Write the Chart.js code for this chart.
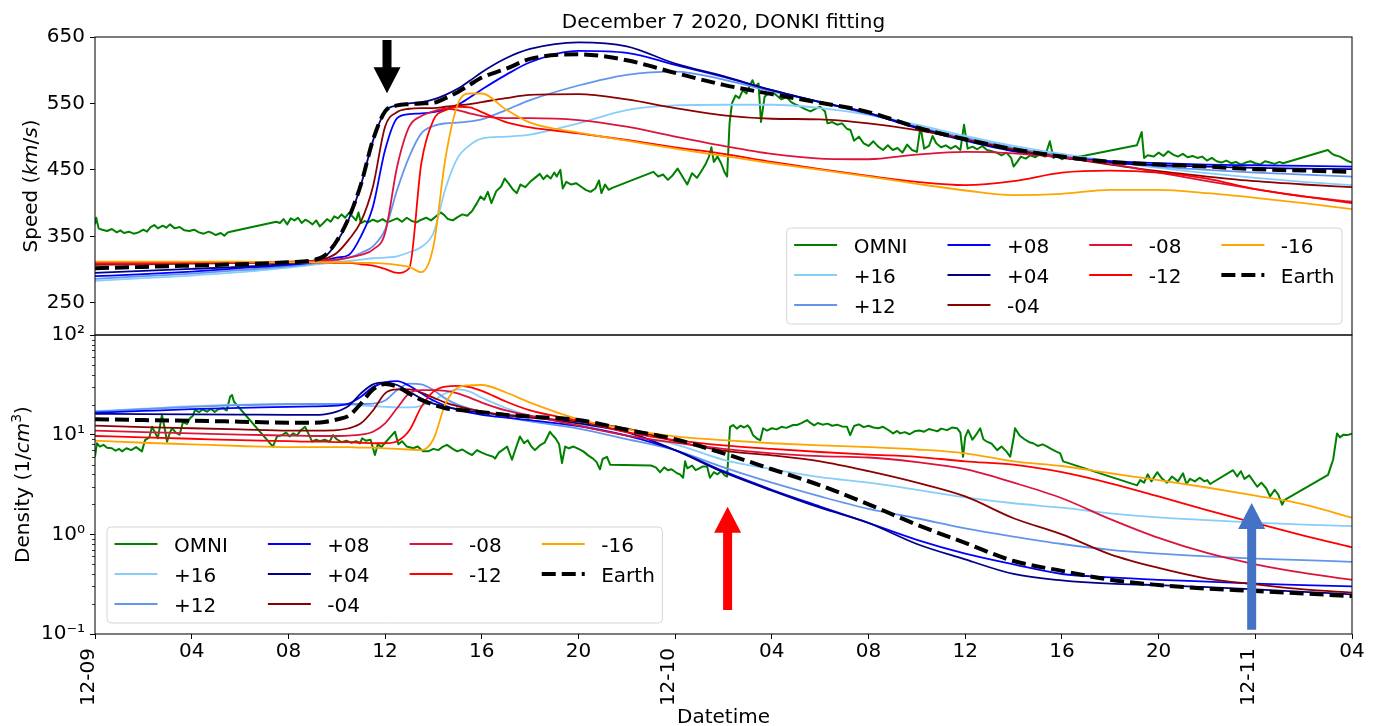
<!DOCTYPE html>
<html>
<head>
<meta charset="utf-8">
<title>December 7 2020, DONKI fitting</title>
<script src="https://cdn.jsdelivr.net/npm/chart.js@4.4.1/dist/chart.umd.min.js"></script>
<style>
  html, body { margin: 0; padding: 0; background: #fff; }
  #wrap { position: relative; width: 1381px; height: 726px; }
  #wrap canvas { position: absolute; left: 0; top: 0; }
</style>
</head>
<body>
<div id="wrap">
  <canvas id="speedChart" width="1381" height="726"></canvas>
  <canvas id="densityChart" width="1381" height="726"></canvas>
</div>
<script>
// hours after 2020-12-09 00:00 UT
const modelHours = [0, 2, 4, 6, 8, 9, 9.5, 10, 10.5, 11, 11.5, 12, 12.5, 13, 13.5, 14, 14.5, 15, 15.5, 16,
  17, 18, 20, 22, 24, 26, 28, 30, 32, 34, 36, 38, 40, 42, 44, 46, 48, 50, 52];

// speed (km/s) of each DONKI run, labelled by time shift in hours
const speedP16 = [283, 287, 291, 296, 303, 307, 309, 311, 313, 315, 317, 318, 320, 326, 334, 355, 422, 468, 487, 497,
  500, 503, 520, 540, 547, 548, 548, 543, 533, 518, 501, 486, 474, 463, 453, 445, 438, 432, 427];
const speedP12 = [286, 290, 294, 299, 305, 309, 311, 314, 318, 325, 335, 360, 420, 470, 505, 516, 520, 521, 523, 526,
  540, 555, 577, 593, 598, 586, 568, 552, 534, 515, 498, 483, 471, 462, 455, 450, 446, 443, 440];
const speedP08 = [290, 293, 297, 302, 307, 311, 314, 318, 322, 350, 395, 480, 528, 534, 535, 537, 541, 548, 559, 571,
  593, 612, 629, 626, 608, 590, 570, 552, 535, 513, 494, 478, 469, 463, 460, 458, 457, 456, 455];
const speedP04 = [295, 298, 301, 304, 309, 313, 319, 341, 376, 427, 494, 538, 547, 550, 552, 556, 563, 572, 584, 597,
  618, 632, 642, 636, 610, 591, 570, 552, 536, 514, 495, 479, 468, 461, 457, 455, 453, 452, 451];
const speedM04 = [307, 308, 309, 310, 311, 313, 316, 325, 345, 372, 425, 515, 537, 542, 543, 543, 545, 547, 549, 552,
  558, 563, 564, 556, 543, 532, 527, 526, 520, 510, 496, 481, 469, 458, 448, 440, 433, 428, 424];
const speedM08 = [309, 309, 310, 311, 312, 313, 314, 315, 318, 322, 330, 355, 455, 515, 531, 538, 542, 540, 535, 531,
  528, 528, 525, 515, 500, 486, 474, 467, 466, 473, 477, 475, 469, 459, 446, 433, 421, 410, 402];
const speedM12 = [311, 311, 311, 311, 311, 311, 311, 310, 310, 308, 306, 301, 295, 302, 460, 525, 540, 545, 544, 537,
  522, 514, 505, 495, 484, 474, 462, 451, 441, 432, 427, 433, 446, 449, 446, 437, 421, 410, 400];
const speedM16 = [312, 312, 312, 312, 311, 311, 311, 311, 311, 310, 310, 309, 307, 304, 296, 335, 468, 548, 565, 565,
  541, 521, 506, 494, 482, 471, 460, 450, 440, 429, 419, 412, 414, 420, 420, 415, 408, 400, 391];
const speedEarth = [302, 304, 306, 308, 311, 314, 321, 343, 378, 428, 495, 538, 547, 549, 550, 551, 558, 567, 578, 589,
  602, 617, 624, 615, 596, 578, 564, 551, 537, 514, 496, 481, 470, 462, 458, 455, 451, 449, 447];

// density (1/cm^3)
const densP16 = [17.2, 18.2, 19.3, 20.0, 20.4, 20.4, 20.3, 20.2, 20.0, 19.7, 19.3, 19.0, 18.8, 18.8, 19.5, 22, 26, 28.5, 27, 23.5,
  18.5, 15.5, 12.6, 9.8, 8.0, 5.6, 4.5, 3.75, 3.3, 2.8, 2.35, 2.05, 1.85, 1.62, 1.48, 1.39, 1.31, 1.25, 1.21];
const densP12 = [17.0, 18.0, 19.0, 19.8, 20.2, 20.3, 20.3, 20.3, 20.3, 20.3, 20.5, 22, 28, 32.5, 32, 28, 23, 20, 18.3, 17.0,
  15.0, 13.6, 11.5, 9.0, 7.0, 4.7, 3.3, 2.4, 1.8, 1.45, 1.15, 0.95, 0.8, 0.7, 0.64, 0.6, 0.57, 0.55, 0.53];
const densP08 = [16.6, 17.3, 18.0, 18.6, 19.0, 19.2, 19.3, 19.6, 20.5, 24, 30, 33.5, 34.5, 31, 26, 22, 19.5, 17.8, 16.6, 15.8,
  14.8, 14.0, 12.2, 9.8, 7.0, 4.3, 2.8, 1.9, 1.3, 0.88, 0.64, 0.5, 0.4, 0.37, 0.35, 0.335, 0.32, 0.31, 0.30];
const densP04 = [16.2, 16.1, 16.0, 15.9, 15.8, 15.8, 16.0, 17.0, 19.5, 26, 32, 33.5, 31.5, 27, 23, 20.5, 19, 18, 17.2, 16.6,
  15.8, 15.0, 13.0, 10.6, 7.0, 4.2, 2.75, 1.85, 1.3, 0.8, 0.56, 0.4, 0.345, 0.32, 0.31, 0.295, 0.28, 0.265, 0.25];
const densM04 = [12.3, 11.9, 11.6, 11.3, 11.0, 11.0, 11.0, 11.1, 11.6, 13.0, 17.5, 26, 28.5, 28.5, 26.5, 23.5, 21, 19.3, 18.0, 17.0,
  15.6, 14.8, 13.5, 11.5, 8.6, 6.9, 6.2, 5.4, 4.3, 3.3, 2.4, 1.45, 1.0, 0.63, 0.46, 0.36, 0.315, 0.28, 0.26];
const densM08 = [11.0, 10.6, 10.3, 10.0, 9.8, 9.7, 9.7, 9.7, 9.8, 10.0, 10.7, 13.0, 18.5, 26, 28, 28, 27.5, 26, 23.5, 21,
  17.5, 15.5, 12.3, 9.8, 8.3, 7.2, 6.5, 6.1, 5.9, 5.3, 4.5, 3.3, 2.3, 1.42, 0.92, 0.65, 0.5, 0.41, 0.35];
const densM12 = [9.7, 9.4, 9.1, 8.8, 8.6, 8.5, 8.5, 8.4, 8.4, 8.3, 8.2, 8.2, 8.6, 11, 19, 27, 30.3, 30.8, 30, 27.5,
  21.5, 17.5, 13.8, 10.6, 8.8, 7.8, 7.2, 6.7, 6.3, 6.0, 5.4, 5.0, 4.2, 3.25, 2.4, 1.75, 1.3, 0.97, 0.74];
const densM16 = [8.7, 8.3, 8.0, 7.7, 7.5, 7.5, 7.5, 7.5, 7.5, 7.4, 7.4, 7.3, 7.2, 7.1, 7.0, 9.0, 20.5, 29.5, 31.3, 31.5,
  26.5, 21, 14.3, 11.3, 9.6, 8.8, 8.2, 7.8, 7.5, 7.1, 6.5, 5.4, 4.85, 4.1, 3.5, 2.95, 2.45, 2.0, 1.47];
const densEarth = [14.3, 14.0, 13.8, 13.5, 13.2, 13.2, 13.4, 14.2, 15.5, 20.5, 28.5, 32.2, 30.3, 25.8, 22.3, 20.0, 18.4, 17.8, 17.3, 16.8,
  15.8, 15.2, 14.0, 11.2, 9.0, 6.5, 4.5, 3.1, 2.0, 1.25, 0.82, 0.54, 0.43, 0.35, 0.31, 0.285, 0.27, 0.255, 0.24];

// OMNI observations
const omniSpeedHours = [0.00, 0.05, 0.15, 0.30, 0.50, 0.70, 0.90, 1.05, 1.20, 1.40, 1.60, 1.80, 2.00, 2.15, 2.30, 2.45, 2.60, 2.80, 2.95, 3.10,
  3.30, 3.50, 3.70, 3.90, 4.10, 4.30, 4.50, 4.70, 4.85, 5.00, 5.20, 5.35, 5.50, 5.60,
  7.50, 7.65, 7.80, 7.95, 8.10, 8.25, 8.40, 8.55, 8.70, 8.85, 9.00, 9.15, 9.30, 9.45, 9.60, 9.75, 9.90, 10.05, 10.20, 10.35,
  10.50, 10.65, 10.80, 10.90, 11.00, 11.15, 11.30, 11.50, 11.70, 11.90, 12.10, 12.30, 12.50, 12.70, 12.90, 13.10, 13.30, 13.50,
  13.70, 13.90, 14.10, 14.30, 14.45, 14.60, 14.80, 15.00, 15.20, 15.40, 15.60, 15.80, 15.95, 16.10, 16.25, 16.40, 16.60, 16.80,
  16.95, 17.10, 17.30, 17.45, 17.60, 17.80, 18.00, 18.20, 18.40, 18.55, 18.70, 18.85, 19.00, 19.10, 19.25, 19.35, 19.50, 19.70,
  19.90, 20.10, 20.30, 20.50, 20.70, 20.85, 20.95, 21.10, 21.25, 21.40,
  23.10, 23.30, 23.50, 23.70, 23.90, 24.10, 24.30, 24.50, 24.70, 24.90, 25.05, 25.25, 25.40, 25.50, 25.60, 25.75, 25.90, 26.05,
  26.15, 26.25, 26.35, 26.50, 26.65, 26.80, 26.95, 27.10, 27.20, 27.30, 27.45, 27.55, 27.70, 27.85, 28.00, 28.20, 28.40, 28.60,
  28.80, 29.00, 29.20, 29.40, 29.60, 29.80, 30.00, 30.20, 30.30, 30.50, 30.70, 30.90, 31.10, 31.25, 31.40, 31.60, 31.80, 32.00,
  32.20, 32.40, 32.60, 32.80, 33.00, 33.20, 33.40, 33.60, 33.80, 34.00, 34.15, 34.30, 34.50, 34.65, 34.80, 35.00, 35.20, 35.40,
  35.60, 35.80, 35.95, 36.10, 36.30, 36.50, 36.70, 36.90, 37.10, 37.30, 37.50, 37.70, 37.90, 38.00, 38.15, 38.30, 38.50, 38.70,
  38.90, 39.10, 39.30, 39.50, 39.65, 39.80, 40.00, 40.20, 40.35,
  43.10, 43.30, 43.40, 43.55, 43.80, 44.00, 44.20, 44.40, 44.60, 44.80, 45.00, 45.20, 45.40, 45.60, 45.80, 46.00, 46.20, 46.40,
  46.60, 46.80, 47.00, 47.20, 47.40, 47.60, 47.80, 48.00, 48.20, 48.40, 48.60, 48.80, 49.00, 49.15,
  51.00, 51.15, 51.30, 51.50, 51.70, 51.85, 52.00];
const omniSpeed = [368, 378, 362, 360, 358, 361, 356, 359, 355, 357, 354, 356, 360, 357, 364, 367, 362, 366, 363, 368,
  362, 364, 359, 358, 360, 356, 354, 357, 355, 352, 355, 351, 356, 357,
  372, 370, 376, 368, 377, 374, 378, 370, 375, 372, 368, 374, 365, 370, 376, 372, 380, 377, 383, 378,
  385, 380, 374, 386, 370, 373, 371, 375, 372, 376, 371, 374, 377, 372, 378, 373, 371, 375,
  378, 374, 380, 386, 382, 376, 374, 379, 383, 381, 388, 400, 410, 405, 417, 400, 418, 425,
  437, 430, 420, 415, 428, 424, 432, 438, 444, 436, 442, 437, 446, 440, 450, 422, 432, 428,
  430, 425, 420, 417, 422, 434, 415, 428, 420, 423,
  447, 440, 443, 435, 442, 452, 440, 428, 445, 438, 446, 458, 470, 484, 462, 470, 460, 446,
  440, 520, 550, 562, 558, 570, 565, 578, 585, 575, 580, 522, 560, 565, 568, 562, 556, 560,
  552, 548, 545, 541, 538, 542, 545, 538, 520, 522, 518, 520, 512, 510, 494, 500, 490, 486,
  493, 485, 480, 487, 480, 483, 476, 488, 480, 477, 515, 482, 486, 501, 490, 484, 487, 482,
  486, 480, 518, 482, 485, 481, 486, 480, 478, 476, 472, 476, 468, 455, 462, 470, 467, 472,
  469, 474, 470, 493, 468, 471, 466, 470, 467,
  487, 507, 468, 472, 470, 476, 471, 478, 473, 470, 474, 469, 471, 468, 470, 464, 468, 463,
  461, 464, 460, 462, 458, 461, 463, 460, 458, 463, 461, 459, 462, 460,
  480, 475, 472, 470, 466, 463, 461];

const omniDensityHours = [0.00, 0.08, 0.20, 0.35, 0.50, 0.70, 0.85, 1.00, 1.12, 1.30, 1.50, 1.70, 1.94, 2.07, 2.25, 2.36, 2.50, 2.60, 2.77, 2.90,
  2.98, 3.10, 3.19, 3.35, 3.50, 3.64, 3.80, 3.93, 4.05, 4.14, 4.30, 4.45, 4.63, 4.80, 4.95, 5.10, 5.30, 5.45, 5.59, 5.67, 5.75,
  7.36, 7.53, 7.74, 7.90, 8.05, 8.20, 8.35, 8.50, 8.69, 8.85, 8.98, 9.15, 9.30, 9.50, 9.70, 9.85, 10.00, 10.20, 10.40, 10.60,
  10.80, 10.96, 11.05, 11.20, 11.40, 11.58, 11.70, 11.85, 12.00, 12.20, 12.41, 12.55, 12.70, 12.90, 13.16, 13.35, 13.57, 13.78,
  14.00, 14.20, 14.40, 14.56, 14.80, 14.98, 15.20, 15.40, 15.60, 15.80, 16.00, 16.20, 16.47, 16.55, 16.70, 16.85, 17.05, 17.25,
  17.40, 17.58, 17.75, 17.90, 18.05, 18.20, 18.40, 18.60, 18.82, 18.91, 19.05, 19.20, 19.32, 19.45, 19.60, 19.80, 20.00, 20.20,
  20.40, 20.60, 20.75, 20.89, 21.00, 21.18, 21.31,
  23.00, 23.20, 23.38, 23.55, 23.70, 23.85, 24.08, 24.20, 24.33, 24.41, 24.50, 24.70, 24.85, 25.00, 25.15, 25.32, 25.44, 25.60,
  25.75, 25.90, 26.05, 26.15, 26.27, 26.40, 26.55, 26.70, 26.85, 27.00, 27.10, 27.22, 27.39, 27.52, 27.64, 27.80, 28.00, 28.20,
  28.40, 28.60, 28.88, 29.04, 29.20, 29.46, 29.58, 29.75, 29.90, 30.10, 30.30, 30.50, 30.70, 30.90, 31.11, 31.24, 31.40, 31.60,
  31.80, 32.00, 32.20, 32.40, 32.60, 32.80, 33.02, 33.18, 33.31, 33.50, 33.70, 33.90, 34.10, 34.30, 34.50, 34.67, 34.85, 35.00,
  35.25, 35.45, 35.66, 35.80, 35.91, 36.00, 36.12, 36.30, 36.45, 36.62, 36.75, 36.90, 37.10, 37.32, 37.50, 37.70, 37.86, 38.00,
  38.06, 38.25, 38.45, 38.65, 38.81, 39.00, 39.20, 39.39, 39.55, 39.75, 39.93, 40.05,
  43.11, 43.24, 43.40, 43.55, 43.70, 43.94, 44.15, 44.35, 44.55, 44.80, 45.01, 45.15, 45.30, 45.50, 45.70, 45.90, 46.01, 46.13,
  47.08, 47.25, 47.40, 47.55, 47.75, 48.08, 48.25, 48.45, 48.61, 48.80, 48.95, 49.11, 49.20,
  51.01, 51.15, 51.22, 51.38, 51.50, 51.65, 51.80, 52.00];
const omniDensity = [6.0, 8.2, 7.6, 7.9, 7.4, 7.3, 6.9, 7.2, 6.8, 7.3, 7.0, 7.5, 6.8, 8.8, 9.4, 12.0, 10.3, 9.2, 15.8, 11.0,
  8.5, 10.5, 11.6, 10.4, 10.0, 13.4, 12.8, 14.6, 15.5, 17.7, 16.8, 17.9, 17.0, 18.2, 16.9, 18.0, 18.4, 17.5, 24.0, 25.0, 21.4,
  7.6, 9.6, 9.9, 10.5, 9.6, 10.3, 9.8, 11.0, 12.0, 10.0, 8.5, 8.9, 8.6, 8.9, 8.5, 9.9, 9.0, 8.4, 8.7, 8.3,
  8.6, 8.2, 9.2, 8.7, 8.9, 6.25, 8.0, 7.5, 8.3, 9.4, 10.7, 8.0, 8.6, 7.6, 7.3, 7.6, 6.8, 6.8,
  7.2, 7.0, 7.6, 7.9, 7.2, 6.8, 7.1, 6.6, 6.25, 7.0, 6.6, 6.3, 6.0, 5.75, 6.6, 7.0, 7.6, 5.6,
  7.2, 9.6, 8.2, 8.8, 7.6, 7.0, 7.8, 8.3, 10.7, 10.0, 9.2, 8.0, 5.2, 7.6, 7.3, 7.6, 7.2, 6.8,
  6.2, 5.75, 5.3, 4.5, 5.7, 6.0, 5.0,
  4.9, 4.7, 4.2, 4.7, 4.4, 4.5, 4.1, 4.0, 3.7, 5.4, 4.6, 4.9, 4.4, 4.6, 4.8, 4.8, 3.7, 4.2,
  4.0, 4.3, 3.9, 3.8, 12.0, 12.5, 11.5, 12.3, 11.8, 12.4, 11.6, 9.9, 9.1, 8.8, 11.6, 11.0, 11.6, 11.3,
  12.0, 11.7, 12.5, 12.5, 13.0, 14.0, 13.2, 12.4, 13.1, 12.6, 12.9, 12.3, 12.6, 12.1, 12.0, 9.9, 12.2, 12.7,
  11.9, 12.3, 11.8, 11.6, 12.0, 11.2, 10.3, 10.9, 10.3, 10.6, 10.1, 10.8, 11.0, 10.7, 11.4, 11.1, 10.8, 11.5,
  11.1, 11.8, 11.6, 10.5, 6.0, 9.5, 11.1, 8.9, 10.0, 11.6, 9.0, 8.5, 8.1, 7.0, 7.6, 6.8, 6.0, 9.2,
  11.6, 9.8, 9.0, 8.4, 8.2, 7.7, 8.0, 7.6, 7.2, 6.8, 6.5, 5.4,
  3.1, 3.5, 3.3, 4.0, 3.4, 4.2, 3.6, 3.3, 3.8, 3.4, 4.1, 3.2, 3.6, 3.4, 3.7, 3.4, 3.5, 3.2,
  4.4, 3.8, 4.3, 3.6, 3.9, 3.0, 3.3, 2.9, 2.4, 2.8, 2.5, 1.98, 2.2,
  3.95, 5.0, 5.6, 10.3, 9.4, 10.0, 9.9, 10.2];

// axis ticks
const xTickHours = [0, 4, 8, 12, 16, 20, 24, 28, 32, 36, 40, 44, 48, 52];
const xTickLabels = ['12-09', '04', '08', '12', '16', '20', '12-10', '04', '08', '12', '16', '20', '12-11', '04'];
const speedTicks = [250, 350, 450, 550, 650];
const densityTicks = [0.1, 1, 10, 100];
const densityTickLabels = ['10\u207B\u00B9', '10\u2070', '10\u00B9', '10\u00B2'];

const seriesNames = ['OMNI', '+16', '+12', '+08', '+04', '-04', '-08', '-12', '-16', 'Earth'];
const seriesColors = {
  'OMNI': 'green', '+16': 'lightskyblue', '+12': 'cornflowerblue', '+08': 'blue', '+04': 'darkblue',
  '-04': 'darkred', '-08': 'crimson', '-12': 'red', '-16': 'orange', 'Earth': 'black'
};

const FONT = '"DejaVu Sans", sans-serif';
Chart.defaults.font.family = FONT;
Chart.defaults.font.size = 20;
Chart.defaults.color = '#000';

function makeDatasets(omniHours, omniValues, models) {
  return seriesNames.map((name, i) => {
    const hours = name === 'OMNI' ? omniHours : modelHours;
    const values = name === 'OMNI' ? omniValues : models[name];
    return {
      label: name,
      data: hours.map((h, k) => ({ x: h, y: values[k] })),
      borderColor: seriesColors[name],
      borderWidth: name === 'Earth' ? 4 : (name === 'OMNI' ? 2 : 1.8),
      borderDash: name === 'Earth' ? [14, 6] : [],
      borderJoinStyle: 'round',
      cubicInterpolationMode: name === 'OMNI' ? 'default' : 'monotone',
      tension: 0,
      pointRadius: 0,
      order: seriesNames.length - i
    };
  });
}

// box around the plotting area
const framePlugin = {
  id: 'frame',
  afterDraw(chart) {
    const { ctx, chartArea: a } = chart;
    ctx.save();
    ctx.strokeStyle = '#111';
    ctx.lineWidth = 1.1;
    ctx.strokeRect(a.left, a.top, a.right - a.left, a.bottom - a.top);
    ctx.restore();
  }
};

// matplotlib style legend: 4 columns filled top to bottom, larger columns first
const boxLegendPlugin = {
  id: 'boxLegend',
  afterDraw(chart, args, opts) {
    const { ctx, chartArea: a } = chart;
    const sets = chart.data.datasets;
    const ncols = 4;
    const base = Math.floor(sets.length / ncols), large = sets.length % ncols;
    const columns = [];
    let start = 0;
    for (let c = 0; c < ncols; c++) {
      const size = base + (c < large ? 1 : 0);
      columns.push(sets.slice(start, start + size));
      start += size;
    }
    const pad = 7.5, handle = 43, textGap = 16.5, colGap = 40, rowStep = 30, boxH = 96;
    ctx.save();
    ctx.font = '20px ' + FONT;
    const colW = columns.map(col => Math.max(...col.map(ds => ctx.measureText(ds.label).width)));
    let boxW = pad * 2 + colGap * (ncols - 1);
    colW.forEach(w => { boxW += handle + textGap + w; });
    const bottom = a.bottom - 11;
    const top = bottom - boxH;
    const left = opts.corner === 'right' ? a.right - 10 - boxW : a.left + 12;

    ctx.beginPath();
    ctx.roundRect(left, top, boxW, boxH, 4);
    ctx.fillStyle = 'rgba(255,255,255,0.8)';
    ctx.fill();
    ctx.strokeStyle = '#d6d6d6';
    ctx.lineWidth = 1;
    ctx.stroke();

    let x = left + pad;
    columns.forEach((col, c) => {
      col.forEach((ds, r) => {
        const y = top + 17 + r * rowStep;
        ctx.beginPath();
        ctx.setLineDash(ds.borderDash || []);
        ctx.lineWidth = ds.label === 'Earth' ? 4 : 2;
        ctx.strokeStyle = ds.borderColor;
        ctx.moveTo(x, y);
        ctx.lineTo(x + handle, y);
        ctx.stroke();
        ctx.setLineDash([]);
        ctx.fillStyle = '#000';
        ctx.textAlign = 'left';
        ctx.textBaseline = 'alphabetic';
        ctx.fillText(ds.label, x + handle + textGap, y + 7.5);
      });
      x += handle + textGap + colW[c] + colGap;
    });
    ctx.restore();
  }
};

// block arrows placed in data coordinates
const arrowPlugin = {
  id: 'arrows',
  afterDatasetsDraw(chart, args, opts) {
    const { ctx, scales } = chart;
    ctx.save();
    (opts.items || []).forEach(item => {
      const x = scales.x.getPixelForValue(item.hour);
      const y0 = scales.y.getPixelForValue(item.from);
      const y1 = scales.y.getPixelForValue(item.to);
      const dir = Math.sign(y1 - y0);
      const headLen = 26, shaft = 4.5, head = 13.5;
      const yb = y1 - dir * headLen;
      ctx.beginPath();
      ctx.moveTo(x - shaft, y0);
      ctx.lineTo(x + shaft, y0);
      ctx.lineTo(x + shaft, yb);
      ctx.lineTo(x + head, yb);
      ctx.lineTo(x, y1);
      ctx.lineTo(x - head, yb);
      ctx.lineTo(x - shaft, yb);
      ctx.closePath();
      ctx.fillStyle = item.color;
      ctx.fill();
    });
    ctx.restore();
  }
};

function runFont(run) {
  if (run.sup) return '14px ' + FONT;
  return (run.italic ? 'oblique ' : '') + '20px ' + FONT;
}

// rotated axis title made of plain, oblique and superscript pieces
function drawRotatedRuns(ctx, runs, baseX, centerY) {
  ctx.save();
  ctx.translate(baseX, centerY);
  ctx.rotate(-Math.PI / 2);
  ctx.fillStyle = '#000';
  ctx.textAlign = 'left';
  ctx.textBaseline = 'alphabetic';
  let total = 0;
  const widths = runs.map(r => { ctx.font = runFont(r); const w = ctx.measureText(r.text).width; total += w; return w; });
  let x = -total / 2;
  runs.forEach((r, i) => {
    ctx.font = runFont(r);
    ctx.fillText(r.text, x, r.sup ? -8 : 0);
    x += widths[i];
  });
  ctx.restore();
}

const axisTextPlugin = {
  id: 'axisText',
  afterDraw(chart, args, opts) {
    const { ctx, chartArea: a, scales } = chart;
    ctx.save();
    if (opts.title) {
      ctx.font = '20px ' + FONT;
      ctx.fillStyle = '#000';
      ctx.textAlign = 'center';
      ctx.textBaseline = 'alphabetic';
      ctx.fillText(opts.title, (a.left + a.right) / 2, a.top - 9);
    }
    if (opts.yTitle) {
      drawRotatedRuns(ctx, opts.yTitle, opts.yTitleX, (a.top + a.bottom) / 2);
    }
    if (opts.xLabels) {
      ctx.font = '20px ' + FONT;
      ctx.fillStyle = '#000';
      xTickHours.forEach((h, i) => {
        const x = scales.x.getPixelForValue(h);
        const label = xTickLabels[i];
        if (label.includes('-')) {
          ctx.save();
          ctx.translate(x - 1, a.bottom + 14);
          ctx.rotate(-Math.PI / 2);
          ctx.textAlign = 'right';
          ctx.textBaseline = 'alphabetic';
          ctx.fillText(label, 0, 0);
          ctx.restore();
        } else {
          ctx.textAlign = 'center';
          ctx.textBaseline = 'alphabetic';
          ctx.fillText(label, x, a.bottom + 23);
        }
      });
      ctx.textAlign = 'center';
      ctx.fillText('Datetime', (a.left + a.right) / 2, a.bottom + 89);
    }
    if (opts.minorLog) {
      ctx.strokeStyle = '#000';
      ctx.lineWidth = 0.8;
      for (let e = -1; e < 2; e++) {
        for (let k = 2; k < 10; k++) {
          const y = Math.round(scales.y.getPixelForValue(k * Math.pow(10, e))) + 0.5;
          ctx.beginPath();
          ctx.moveTo(a.left - 3, y);
          ctx.lineTo(a.left, y);
          ctx.stroke();
        }
      }
    }
    ctx.restore();
  }
};

const tickGrid = { drawOnChartArea: false, drawTicks: true, tickLength: 5, tickColor: '#000', tickWidth: 1 };

// upper panel: solar wind speed
new Chart(document.getElementById('speedChart'), {
  type: 'line',
  data: {
    datasets: makeDatasets(omniSpeedHours, omniSpeed, {
      '+16': speedP16, '+12': speedP12, '+08': speedP08, '+04': speedP04,
      '-04': speedM04, '-08': speedM08, '-12': speedM12, '-16': speedM16, 'Earth': speedEarth
    })
  },
  options: {
    responsive: false,
    animation: false,
    devicePixelRatio: 1,
    events: [],
    layout: { padding: { left: 0, top: 37, right: 29, bottom: 391 } },
    scales: {
      x: { type: 'linear', min: 0, max: 52, display: false },
      y: {
        type: 'linear', min: 201.5, max: 650,
        afterBuildTicks: s => { s.ticks = speedTicks.map(v => ({ value: v })); },
        afterFit: s => { s.width = 95; },
        ticks: { autoSkip: false, padding: 5, color: '#000', font: { size: 20 } },
        grid: tickGrid,
        border: { display: false }
      }
    },
    plugins: {
      legend: { display: false },
      tooltip: { enabled: false },
      boxLegend: { corner: 'right' },
      arrows: { items: [{ hour: 12.08, from: 645.5, to: 565.3, color: '#000000' }] },
      axisText: {
        title: 'December 7 2020, DONKI fitting',
        yTitleX: 36.5,
        yTitle: [{ text: 'Speed (' }, { text: 'km', italic: true }, { text: '/' }, { text: 's', italic: true }, { text: ')' }]
      }
    }
  },
  plugins: [arrowPlugin, framePlugin, boxLegendPlugin, axisTextPlugin]
});

// lower panel: proton density, log scale
new Chart(document.getElementById('densityChart'), {
  type: 'line',
  data: {
    datasets: makeDatasets(omniDensityHours, omniDensity, {
      '+16': densP16, '+12': densP12, '+08': densP08, '+04': densP04,
      '-04': densM04, '-08': densM08, '-12': densM12, '-16': densM16, 'Earth': densEarth
    })
  },
  options: {
    responsive: false,
    animation: false,
    devicePixelRatio: 1,
    events: [],
    layout: { padding: { left: 0, top: 335, right: 29, bottom: 0 } },
    scales: {
      x: {
        type: 'linear', min: 0, max: 52,
        afterBuildTicks: s => { s.ticks = xTickHours.map(v => ({ value: v })); },
        afterFit: s => { s.height = 92; },
        ticks: { display: false },
        grid: tickGrid,
        border: { display: false }
      },
      y: {
        type: 'logarithmic', min: 0.1, max: 100,
        afterBuildTicks: s => { s.ticks = densityTicks.map(v => ({ value: v, major: true })); },
        afterFit: s => { s.width = 95; },
        ticks: {
          autoSkip: false, padding: 5, color: '#000', font: { size: 20 },
          callback: v => {
            const i = densityTicks.findIndex(t => Math.abs(Math.log10(t) - Math.log10(v)) < 1e-6);
            return i >= 0 ? densityTickLabels[i] : '';
          }
        },
        grid: tickGrid,
        border: { display: false }
      }
    },
    plugins: {
      legend: { display: false },
      tooltip: { enabled: false },
      boxLegend: { corner: 'left' },
      arrows: {
        items: [
          { hour: 26.17, from: 0.174, to: 1.89, color: '#ff0000' },
          { hour: 47.85, from: 0.11, to: 2.06, color: '#4472c4' }
        ]
      },
      axisText: {
        xLabels: true,
        minorLog: true,
        yTitleX: 28.5,
        yTitle: [{ text: 'Density (1/' }, { text: 'cm', italic: true }, { text: '3', sup: true }, { text: ')' }]
      }
    }
  },
  plugins: [arrowPlugin, framePlugin, boxLegendPlugin, axisTextPlugin]
});
</script>
</body>
</html>
